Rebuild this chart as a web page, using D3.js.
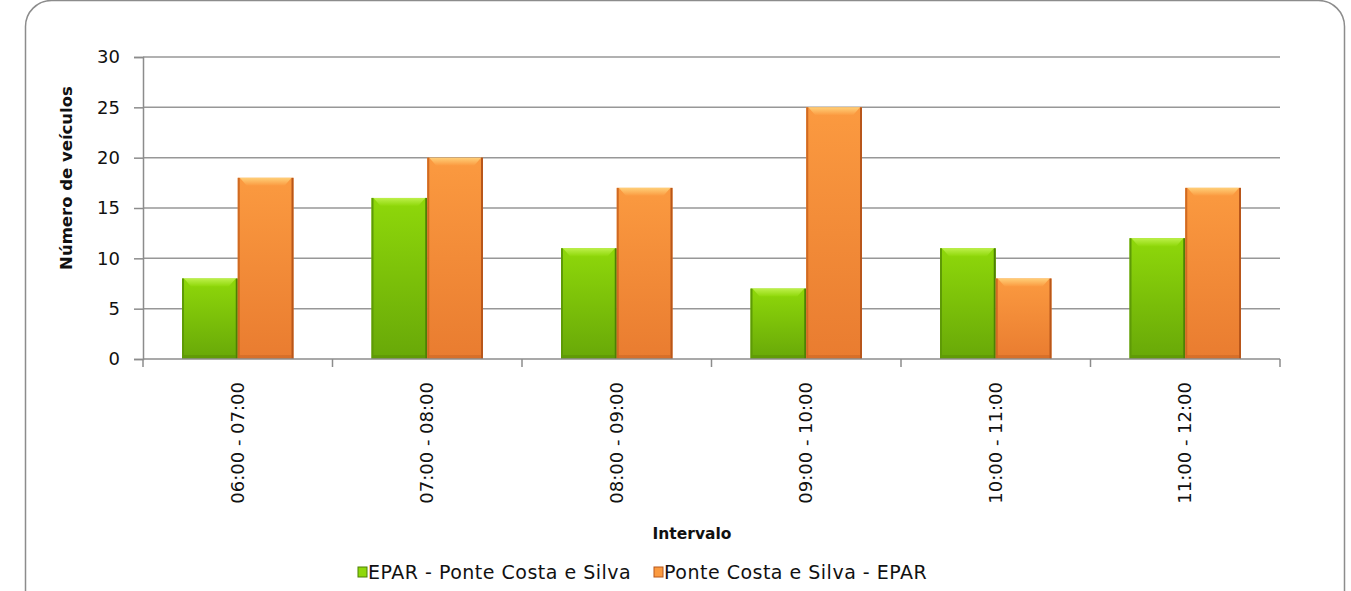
<!DOCTYPE html>
<html><head><meta charset="utf-8">
<script src="https://cdn.jsdelivr.net/npm/d3@7"></script>
<style>body{margin:0;background:#fff;} svg{display:block;}</style>
</head><body>
<script>
const categories = ["06:00 - 07:00","07:00 - 08:00","08:00 - 09:00","09:00 - 10:00","10:00 - 11:00","11:00 - 12:00"];
const seriesNames = ["EPAR - Ponte Costa e Silva","Ponte Costa e Silva - EPAR"];
const epar = [8,16,11,7,11,12];
const ponte = [18,20,17,25,8,17];
const yTicks = [0,5,10,15,20,25,30];

(function(){
const W=1351,H=591;
const FONT = "'DejaVu Sans',sans-serif";
const svg = d3.select("body").append("svg").attr("width",W).attr("height",H);
const defs = svg.append("defs");

const palettes = [
  {id:"g", top:"#8fd80a", bot:"#68a808", bevel:"#bdf04a", edgeL:"#5e9a06", edgeR:"#4d8004", base:"#4f8204"},
  {id:"o", top:"#fb9a40", bot:"#e97c30", bevel:"#ffcf78", edgeL:"#d06a22", edgeR:"#b8561a", base:"#b85a1c"}
];
palettes.forEach(p=>{
  const lg = defs.append("linearGradient").attr("id","grad"+p.id).attr("x1",0).attr("y1",0).attr("x2",0).attr("y2",1);
  lg.append("stop").attr("offset","0%").attr("stop-color",p.top);
  lg.append("stop").attr("offset","100%").attr("stop-color",p.bot);
  const bv = defs.append("linearGradient").attr("id","bev"+p.id).attr("x1",0).attr("y1",0).attr("x2",0).attr("y2",1);
  bv.append("stop").attr("offset","0%").attr("stop-color",p.bevel);
  bv.append("stop").attr("offset","100%").attr("stop-color",p.top);
});

// frame
svg.append("rect").attr("x",25.5).attr("y",0.5).attr("width",1319).attr("height",640)
  .attr("rx",26).attr("ry",26).attr("fill","#fff").attr("stroke","#8c8c8c").attr("stroke-width",1.5);

const pL=143,pR=1280,pT=57,pB=359;
const x = d3.scaleBand().domain(categories).range([pL,pR]).paddingInner(0).paddingOuter(0);
const y = d3.scaleLinear().domain([0,30]).range([pB,pT]);
const gap = 39;
const inner = d3.scaleBand().domain([0,1]).range([gap,x.bandwidth()-gap]).paddingInner(0).paddingOuter(0);

// gridlines
svg.append("g").selectAll("line").data(yTicks.filter(d=>d>0)).join("line")
  .attr("x1",pL).attr("x2",pR).attr("y1",d=>y(d)).attr("y2",d=>y(d))
  .attr("stroke","#979797").attr("stroke-width",1.5);

// y axis
const yAxis = svg.append("g").attr("transform",`translate(${pL},0)`)
  .call(d3.axisLeft(y).tickValues(yTicks).tickSize(9).tickPadding(14));
yAxis.select(".domain").attr("stroke","#8c8c8c").attr("stroke-width",1.5);
yAxis.selectAll(".tick line").attr("stroke","#8c8c8c").attr("stroke-width",1.5);
yAxis.selectAll("text").attr("font-family",FONT).attr("font-size",18).attr("fill","#111");

// bars
const series = [epar, ponte];
series.forEach((vals,si)=>{
  const p = palettes[si];
  const g = svg.append("g");
  const data = categories.map((c,i)=>({c,v:vals[i]}));
  const bx = d=>x(d.c)+inner(si);
  const bw = inner.bandwidth();
  g.selectAll("rect.main").data(data).join("rect").attr("class","main")
    .attr("x",bx).attr("y",d=>y(d.v)).attr("width",bw).attr("height",d=>y(0)-y(d.v))
    .attr("fill",`url(#grad${p.id})`);
  g.selectAll("rect.el").data(data).join("rect").attr("class","el")
    .attr("x",bx).attr("y",d=>y(d.v)).attr("width",2).attr("height",d=>y(0)-y(d.v)).attr("fill",p.edgeL);
  g.selectAll("rect.er").data(data).join("rect").attr("class","er")
    .attr("x",d=>bx(d)+bw-2).attr("y",d=>y(d.v)).attr("width",2).attr("height",d=>y(0)-y(d.v)).attr("fill",p.edgeR);
  g.selectAll("polygon.tb").data(data).join("polygon").attr("class","tb")
    .attr("points",d=>{const x0=bx(d),y0=y(d.v);return `${x0+2},${y0} ${x0+bw-2},${y0} ${x0+bw-9},${y0+8} ${x0+9},${y0+8}`;})
    .attr("fill",`url(#bev${p.id})`);
  g.selectAll("rect.bb").data(data).join("rect").attr("class","bb")
    .attr("x",d=>bx(d)+2).attr("y",y(0)-4).attr("width",bw-4).attr("height",4).attr("fill",p.base).attr("opacity",0.35);
});

// x axis
svg.append("line").attr("x1",pL).attr("x2",pR).attr("y1",pB).attr("y2",pB)
  .attr("stroke","#8c8c8c").attr("stroke-width",1.5);
svg.append("g").selectAll("line").data(d3.range(categories.length+1)).join("line")
  .attr("x1",i=>pL+i*x.step()).attr("x2",i=>pL+i*x.step())
  .attr("y1",pB).attr("y2",pB+8).attr("stroke","#8c8c8c").attr("stroke-width",1.5);
svg.append("g").selectAll("text").data(categories).join("text")
  .attr("transform",d=>`translate(${x(d)+x.bandwidth()/2+6},${pB+23}) rotate(-90)`)
  .attr("text-anchor","end").attr("font-family",FONT).attr("font-size",18).attr("fill","#111").text(d=>d);

// axis titles
svg.append("text").attr("transform","translate(72,178) rotate(-90)").attr("text-anchor","middle")
  .attr("font-family",FONT).attr("font-weight","bold").attr("font-size",16.5).attr("fill","#111").text("Número de veículos");
svg.append("text").attr("x",692).attr("y",539).attr("text-anchor","middle")
  .attr("font-family",FONT).attr("font-weight","bold").attr("font-size",15.5).attr("fill","#111").text("Intervalo");

// legend
const legX = [358, 654];
seriesNames.forEach((n,i)=>{
  const p = palettes[i];
  const g = svg.append("g").attr("transform",`translate(${legX[i]},567)`);
  g.append("rect").attr("x",0).attr("y",0).attr("width",9).attr("height",10).attr("fill",p.top).attr("stroke",p.edgeR).attr("stroke-width",1);
  g.append("text").attr("x",10).attr("y",12).attr("font-family",FONT).attr("font-size",19).attr("letter-spacing",0.5).attr("fill","#111").text(n);
});
})();
</script>
</body></html>
